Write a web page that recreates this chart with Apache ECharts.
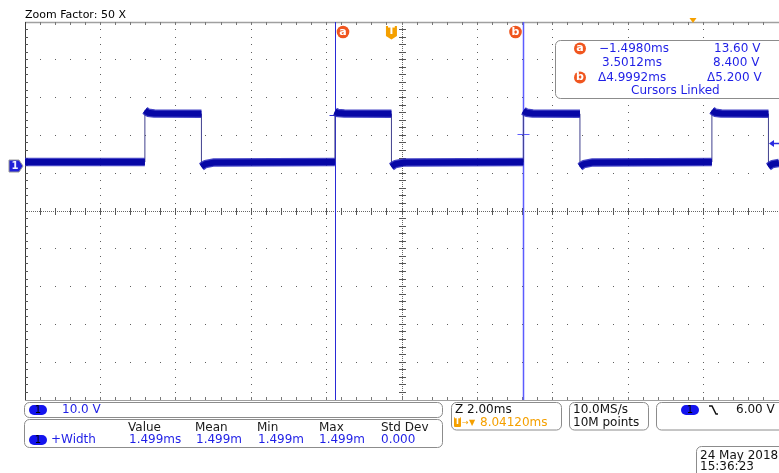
<!DOCTYPE html>
<html>
<head>
<meta charset="utf-8">
<script src="https://cdn.jsdelivr.net/npm/echarts@6/dist/echarts.min.js"></script>
<style>
  html, body { margin: 0; padding: 0; background: #fff; }
  #scope { width: 779px; height: 473px; }
</style>
</head>
<body>
<div id="scope"></div>
<script>
// Graticule: 10 x 10 divisions, 5 minor marks per division
const divisionsX = [0, 1, 2, 3, 4, 5, 6, 7, 8, 9, 10];
const divisionsY = [0, 1, 2, 3, 4, 5, 6, 7, 8, 9, 10];
const minorPerDivision = 5;

// Horizontal: 2.00 ms/div, 0 ms at the trigger point
const timeWindow = [-9.72, 10.28];   // ms
// Vertical: 10.0 V/div, channel 1 ground reference
const voltWindow = [-61.9, 38.1];    // V

// Channel 1 trace vertices
const traceTimes = [
  -9.72, -6.54,
  -6.54, -6.46, -6.29, -5.04,
  -5.04, -4.94, -4.70, -1.499,
  -1.499, -1.42, -1.25, 0.00,
  0.00, 0.10, 0.34, 3.50,
  3.50, 3.58, 3.75, 5.00,
  5.00, 5.10, 5.34, 8.50,
  8.50, 8.58, 8.75, 10.00,
  10.00, 10.10, 10.28
];
const traceVolts = [
  1.05, 1.05,
  14.7, 14.1, 13.9, 13.8,
  -0.2, 0.5, 0.95, 1.05,
  14.4, 14.0, 13.9, 13.8,
  -0.2, 0.5, 0.95, 1.05,
  14.6, 14.1, 13.9, 13.8,
  -0.2, 0.5, 0.95, 1.05,
  14.7, 14.1, 13.9, 13.8,
  -0.2, 0.5, 0.8
];

// Cursors a / b and trigger
const cursorNames = ['a', 'b'];
const cursorTimes = [-1.4980, 3.5012];
const cursorVolts = [13.60, 8.400];
const triggerTime = 0.0;
const triggerLevel = 6.00;

// Readout texts
const zoomText = 'Zoom Factor: 50 X';
const cursorReadout = ['\u22121.4980ms', '13.60 V', '3.5012ms', '8.400 V', '\u03944.9992ms', '\u03945.200 V', 'Cursors Linked'];
const channelScale = '10.0 V';
const measureHeaders = ['Value', 'Mean', 'Min', 'Max', 'Std Dev'];
const measureName = '+Width';
const measureValues = ['1.499ms', '1.499m', '1.499m', '1.499m', '0.000'];
const horizReadout = ['Z 2.00ms', '8.04120ms'];
const acqReadout = ['10.0MS/s', '10M points'];
const trigReadout = '6.00 V';
const dateReadout = ['24 May 2018', '15:36:23'];

const FONT = 'DejaVu Sans';
const BLUE_TEXT = '#1f1fe6';
const ORANGE = '#f5a000';
const CURSOR_RED = '#f0561f';

const traceData = traceTimes.map((t, i) => [t, traceVolts[i]]);
// thick band only along the flat parts, broken at vertical edges
const bandData = [];
traceTimes.forEach((t, i) => {
  if (i > 0 && t === traceTimes[i - 1]) bandData.push([t, null]);
  bandData.push([t, traceVolts[i]]);
});

function drawGraticule(params, api) {
  const kids = [];
  const at = (dx, dy) => api.coord([dx, dy]);
  const n = (divisionsX.length - 1) * minorPerDivision;
  const step = 1 / minorPerDivision;
  const half = v => Math.floor(v) + 0.5;
  const seg = (x1, y1, x2, y2, color, w, dash) => kids.push({
    type: 'line', shape: { x1, y1, x2, y2 },
    style: { stroke: color, lineWidth: w || 1, lineDash: dash || null }
  });
  const dot = (x, y, color) => kids.push({
    type: 'rect', shape: { x: Math.floor(x), y: Math.floor(y), width: 1, height: 1 },
    style: { fill: color }
  });
  const X0 = divisionsX[0], X1 = divisionsX[divisionsX.length - 1];
  const Y0 = divisionsY[0], Y1 = divisionsY[divisionsY.length - 1];
  const cx = (X0 + X1) / 2, cy = (Y0 + Y1) / 2;

  // dotted division lines
  divisionsX.slice(1, -1).forEach(dx => {
    if (dx === cx) return;
    for (let k = 0; k <= n; k++) { const p = at(dx, Y0 + k * step); dot(p[0], p[1], '#5e5e5e'); }
  });
  divisionsY.slice(1, -1).forEach(dy => {
    if (dy === cy) return;
    for (let k = 0; k <= n; k++) { const p = at(X0 + k * step, dy); dot(p[0], p[1], '#5e5e5e'); }
  });

  // centre crosshair with minor ticks
  const cl = at(X0, cy), cr = at(X1, cy), ct = at(cx, Y1), cb = at(cx, Y0);
  seg(cl[0], half(cl[1]), cr[0], half(cr[1]), '#666', 1, [1, 1]);
  seg(half(ct[0]), ct[1], half(cb[0]), cb[1], '#666', 1, [1, 1]);
  for (let k = 0; k <= n; k++) {
    const p = at(X0 + k * step, cy);
    seg(half(p[0]), p[1] - 3, half(p[0]), p[1] + 4, '#555');
    const q = at(cx, Y0 + k * step);
    seg(q[0] - 3, half(q[1]), q[0] + 4, half(q[1]), '#555');
  }

  // frame with edge ticks
  const tl = at(X0, Y1), tr = at(X1, Y1), bl = at(X0, Y0), br = at(X1, Y0);
  seg(tl[0], half(tl[1]), tr[0], half(tr[1]), '#a0a0a0', 1.5);
  seg(bl[0], half(bl[1]), br[0], half(br[1]), '#a0a0a0', 1);
  seg(half(tl[0]), tl[1], half(bl[0]), bl[1], '#3a3a3a', 1);
  for (let k = 1; k < n; k++) {
    const t = at(X0 + k * step, Y1);
    seg(half(t[0]), t[1], half(t[0]), t[1] + 3, '#777');
    const b = at(X0 + k * step, Y0);
    seg(half(b[0]), b[1] - 3, half(b[0]), b[1], '#777');
    const l = at(X0, Y0 + k * step);
    seg(l[0], half(l[1]), l[0] + 3, half(l[1]), '#555');
  }
  return { type: 'group', children: kids };
}

function drawCursor(params, api) {
  const t = api.value(0), v = api.value(1), i = api.value(2);
  const top = api.coord([t, voltWindow[1]]);
  const bot = api.coord([t, voltWindow[0]]);
  const hit = api.coord([t, v]);
  const x = Math.round(top[0]) + 0.5;
  const color = i === 0 ? '#2a2ad6' : '#5c5cff';
  const side = i === 0 ? 7.5 : -8;
  const hy = Math.round(hit[1]) + 0.5;
  return {
    type: 'group', children: [
      { type: 'line', shape: { x1: x, y1: top[1], x2: x, y2: bot[1] }, style: { stroke: color, lineWidth: i === 0 ? 1 : 1.5 } },
      { type: 'line', shape: { x1: x - 6, y1: hy, x2: x + 6, y2: hy }, style: { stroke: color, lineWidth: 1 } },
      { type: 'circle', shape: { cx: x + side, cy: top[1] + 10, r: 6.3 }, style: { fill: CURSOR_RED } },
      { type: 'text', x: x + side, y: top[1] + 10, style: { text: cursorNames[i], fill: '#fff', font: 'bold 11px ' + FONT, align: 'center', verticalAlign: 'middle' } }
    ]
  };
}

function drawMarkers(params, api) {
  const trig = api.coord([triggerTime, voltWindow[1]]);
  const gnd = api.coord([timeWindow[0], 0]);
  const lvl = api.coord([timeWindow[1], triggerLevel]);
  const tx = trig[0], ty = trig[1] + 10;
  const gx = gnd[0], gy = gnd[1];
  const ly = Math.round(lvl[1]) + 0.5;
  return {
    type: 'group', children: [
      // trigger position marker
      { type: 'polygon', shape: { points: [[tx - 5.5, ty - 6], [tx + 5.5, ty - 6], [tx + 5.5, ty + 4], [tx, ty + 7.5], [tx - 5.5, ty + 4]] }, style: { fill: ORANGE } },
      { type: 'text', x: tx, y: ty - 0.5, style: { text: 'T', fill: '#fff', font: 'bold 10px ' + FONT, align: 'center', verticalAlign: 'middle' } },
      // channel 1 ground marker
      { type: 'polygon', shape: { points: [[gx - 16, gy - 6], [gx - 6, gy - 6], [gx - 2, gy], [gx - 6, gy + 6], [gx - 16, gy + 6]] }, style: { fill: '#1f1fd8', stroke: '#9a9a9a', lineWidth: 1 } },
      { type: 'text', x: gx - 10, y: gy, style: { text: '1', fill: '#f0f0ff', font: 'bold 10px ' + FONT, align: 'center', verticalAlign: 'middle' } },
      // trigger level arrow
      { type: 'line', shape: { x1: lvl[0] - 8, y1: ly, x2: lvl[0], y2: ly }, style: { stroke: '#2a2ae0', lineWidth: 1.5 } },
      { type: 'polygon', shape: { points: [[lvl[0] - 10, ly], [lvl[0] - 5, ly - 3.5], [lvl[0] - 5, ly + 3.5]] }, style: { fill: '#2a2ae0' } }
    ]
  };
}

function txt(x, y, text, color, size, extra) {
  return Object.assign({
    type: 'text', x, y, z: 100,
    style: { text, fill: color, font: (size || 12) + 'px ' + FONT, verticalAlign: 'middle' }
  }, extra || {});
}
function box(x, y, w, h) {
  return { type: 'rect', z: 99, shape: { x, y, width: w, height: h, r: 5 }, style: { fill: '#fff', stroke: '#8c8c8c', lineWidth: 1 } };
}
function pill(cx, cy) {
  return [
    { type: 'rect', z: 100, shape: { x: cx - 9, y: cy - 5, width: 18, height: 10, r: 5 }, style: { fill: '#1414ee' } },
    { type: 'text', z: 101, x: cx, y: cy, style: { text: '1', fill: '#000', font: '10px ' + FONT, align: 'center', verticalAlign: 'middle' } }
  ];
}

const graphics = [
  txt(25, 15, zoomText, '#000', 11),
  // zoom position indicator
  { type: 'polygon', z: 100, shape: { points: [[689.5, 18], [696.5, 18], [693, 23]] }, style: { fill: ORANGE } },

  // cursor readout
  box(555.5, 40.5, 240, 58),
  { type: 'circle', z: 100, shape: { cx: 580, cy: 48.5, r: 6 }, style: { fill: CURSOR_RED } },
  txt(580, 48.5, 'a', '#fff', 11, { style: { text: 'a', fill: '#fff', font: 'bold 11px ' + FONT, align: 'center', verticalAlign: 'middle' } }),
  { type: 'circle', z: 100, shape: { cx: 580, cy: 77.5, r: 6 }, style: { fill: CURSOR_RED } },
  txt(580, 77.5, 'b', '#fff', 11, { style: { text: 'b', fill: '#fff', font: 'bold 11px ' + FONT, align: 'center', verticalAlign: 'middle' } }),
  txt(599, 48.5, cursorReadout[0], BLUE_TEXT),
  txt(714, 48.5, cursorReadout[1], BLUE_TEXT),
  txt(602, 63, cursorReadout[2], BLUE_TEXT),
  txt(713, 63, cursorReadout[3], BLUE_TEXT),
  txt(598, 77.5, cursorReadout[4], BLUE_TEXT),
  txt(707, 77.5, cursorReadout[5], BLUE_TEXT),
  txt(631, 91, cursorReadout[6], BLUE_TEXT),

  // channel scale
  box(24.5, 402.5, 418, 15),
  ...pill(38, 410),
  txt(62, 410, channelScale, BLUE_TEXT),

  // measurement table
  box(24.5, 419.5, 418, 28),
  txt(128, 427.5, measureHeaders[0], '#1a1a1a'),
  txt(195, 427.5, measureHeaders[1], '#1a1a1a'),
  txt(257, 427.5, measureHeaders[2], '#1a1a1a'),
  txt(319, 427.5, measureHeaders[3], '#1a1a1a'),
  txt(381, 427.5, measureHeaders[4], '#1a1a1a'),
  ...pill(38, 440),
  txt(51, 440, measureName, BLUE_TEXT),
  txt(129, 440, measureValues[0], BLUE_TEXT),
  txt(196, 440, measureValues[1], BLUE_TEXT),
  txt(258, 440, measureValues[2], BLUE_TEXT),
  txt(319, 440, measureValues[3], BLUE_TEXT),
  txt(381, 440, measureValues[4], BLUE_TEXT),

  // horizontal readout
  box(451.5, 402.5, 110, 27.5),
  txt(455, 410, horizReadout[0], '#111'),
  { type: 'rect', z: 100, shape: { x: 454, y: 417, width: 7, height: 10, r: 1 }, style: { fill: ORANGE } },
  { type: 'text', z: 101, x: 457.5, y: 422, style: { text: 'T', fill: '#fff', font: 'bold 8px ' + FONT, align: 'center', verticalAlign: 'middle' } },
  txt(462, 422.5, '\u2192', ORANGE, 8),
  txt(469, 423, '\u25BC', ORANGE, 8),
  txt(480, 422.5, horizReadout[1], ORANGE),

  // acquisition readout
  box(569.5, 402.5, 79, 27.5),
  txt(573, 410, acqReadout[0], '#111'),
  txt(573, 422.5, acqReadout[1], '#111'),

  // trigger readout
  box(656.5, 402.5, 140, 27.5),
  ...pill(690, 410),
  { type: 'polyline', z: 100, shape: { points: [[709, 406], [712, 406], [716, 414], [718, 414]] }, style: { stroke: '#111', lineWidth: 1.5, fill: null } },
  txt(736, 410, trigReadout, '#111'),

  // date / time
  box(696.5, 446.5, 100, 40),
  txt(700, 456, dateReadout[0], '#111'),
  txt(700, 467, dateReadout[1], '#111')
];

const chart = echarts.init(document.getElementById('scope'), null, { renderer: 'canvas' });
chart.setOption({
  animation: false,
  backgroundColor: '#fff',
  grid: { left: 25, top: 22, width: 755, height: 378 },
  xAxis: [
    { type: 'value', min: divisionsX[0], max: divisionsX[divisionsX.length - 1], show: false },
    { type: 'value', min: timeWindow[0], max: timeWindow[1], show: false }
  ],
  yAxis: [
    { type: 'value', min: divisionsY[0], max: divisionsY[divisionsY.length - 1], show: false },
    { type: 'value', min: voltWindow[0], max: voltWindow[1], show: false }
  ],
  series: [
    { type: 'custom', name: 'graticule', xAxisIndex: 0, yAxisIndex: 0, data: [0], renderItem: drawGraticule, silent: true, z: 1 },
    { type: 'custom', name: 'cursors', xAxisIndex: 1, yAxisIndex: 1, silent: true, z: 2,
      data: cursorTimes.map((t, i) => [t, cursorVolts[i], i]), renderItem: drawCursor },
    { type: 'line', name: 'CH1 edges', xAxisIndex: 1, yAxisIndex: 1, data: traceData, symbol: 'none', silent: true, z: 3,
      lineStyle: { color: '#40408e', width: 1 } },
    { type: 'line', name: 'CH1 band', xAxisIndex: 1, yAxisIndex: 1, data: bandData, symbol: 'none', silent: true, z: 4,
      connectNulls: false, lineStyle: { color: '#2626bc', width: 8.5, opacity: 0.85, cap: 'butt' } },
    { type: 'line', name: 'CH1', xAxisIndex: 1, yAxisIndex: 1, data: bandData, symbol: 'none', silent: true, z: 5,
      connectNulls: false, lineStyle: { color: '#0707a6', width: 6, cap: 'butt' } },
    { type: 'custom', name: 'markers', xAxisIndex: 1, yAxisIndex: 1, data: [0], renderItem: drawMarkers, silent: true, z: 6 }
  ],
  graphic: { elements: graphics }
});
</script>
</body>
</html>
